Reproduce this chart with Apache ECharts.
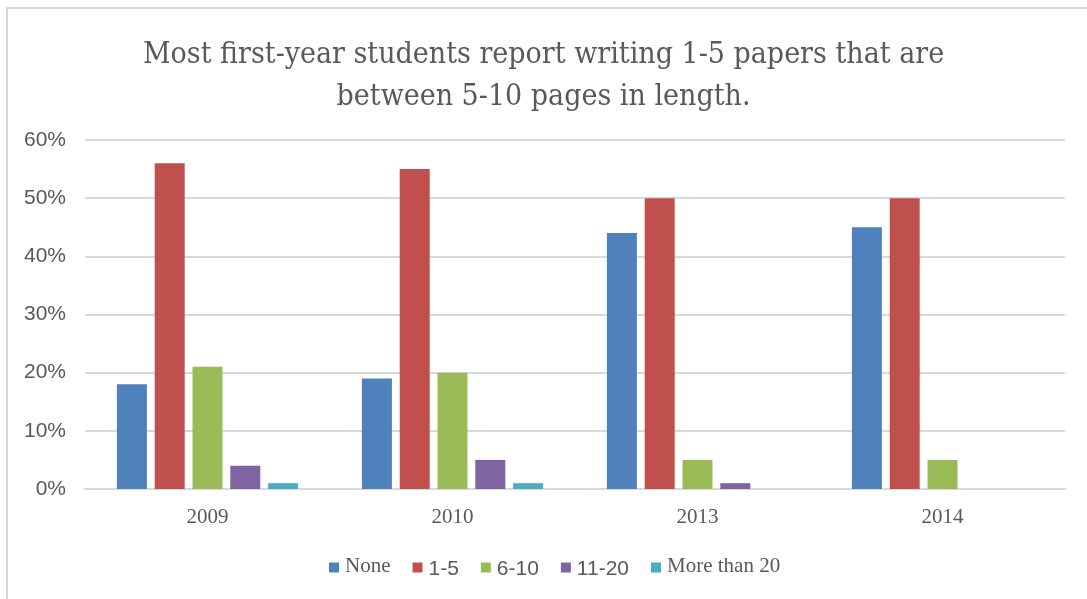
<!DOCTYPE html>
<html>
<head>
<meta charset="utf-8">
<script src="https://cdn.jsdelivr.net/npm/echarts@6/dist/echarts.min.js"></script>
<style>
  html, body { margin: 0; padding: 0; background: #fff; }
  #chart { width: 1087px; height: 599px; }
</style>
</head>
<body>
<div id="chart"></div>
<script>
// Survey years
const years = ['2009', '2010', '2013', '2014'];

// Share of students (%) by number of 5-10 page papers written
const none      = [18, 19, 44, 45];
const oneToFive = [56, 55, 50, 50];
const sixToTen  = [21, 20, 5, 5];
const elevenToTwenty = [4, 5, 1, 0];
const moreThanTwenty = [1, 1, 0, 0];

const seriesNames = ['None', '1-5', '6-10', '11-20', 'More than 20'];
const seriesColors = ['#4F81BD', '#C0504D', '#9BBB59', '#8064A2', '#4BACC6'];
const seriesValues = [none, oneToFive, sixToTen, elevenToTwenty, moreThanTwenty];

const yTicks = [0, 10, 20, 30, 40, 50, 60];

const titleFont = '"DejaVu Serif Condensed", "DejaVu Serif", serif';
const serifFont = '"Liberation Serif", "DejaVu Serif", serif';
const sansFont = '"Liberation Sans", Arial, sans-serif';

// Legend labels mix serif words and sans-serif number ranges
const serifLabels = ['None', 'More than 20'];

const chart = echarts.init(document.getElementById('chart'), null, { renderer: 'canvas' });

chart.setOption({
  backgroundColor: '#ffffff',
  animation: false,
  graphic: [{
    type: 'rect',
    shape: { x: 7, y: 8, width: 1300, height: 800 },
    style: { fill: 'none', stroke: '#d9d9d9', lineWidth: 2 },
    silent: true,
    z: -1
  }],
  title: {
    text: 'Most first-year students report writing 1-5 papers that are\nbetween 5-10 pages in length.',
    left: 'center',
    top: 29,
    textStyle: {
      fontFamily: titleFont,
      fontWeight: 'normal',
      fontSize: 30,
      lineHeight: 42,
      color: '#595959'
    }
  },
  legend: {
    bottom: 14,
    left: 324,
    itemWidth: 10,
    itemHeight: 10,
    itemGap: 22,
    icon: 'rect',
    data: seriesNames,
    formatter: function (name) {
      return serifLabels.indexOf(name) >= 0 ? '{s|' + name + '}' : '{n|' + name + '}';
    },
    textStyle: {
      color: '#595959',
      padding: [0, 0, 0, 1],
      rich: {
        s: { fontFamily: serifFont, fontSize: 21, color: '#595959', padding: [0, 0, 3, 0] },
        n: { fontFamily: sansFont, fontSize: 21, color: '#595959', padding: [4, 0, 0, 0] }
      }
    }
  },
  grid: {
    left: 85,
    right: 22,
    top: 140,
    bottom: 110,
    containLabel: false
  },
  xAxis: {
    type: 'category',
    data: years,
    axisTick: { show: false },
    axisLine: { show: true, lineStyle: { color: '#d9d9d9', width: 2 } },
    axisLabel: {
      fontFamily: serifFont,
      fontSize: 21,
      color: '#595959',
      margin: 18
    }
  },
  yAxis: {
    type: 'value',
    min: 0,
    max: 60,
    interval: 10,
    axisLine: { show: false },
    axisTick: { show: false },
    splitLine: { lineStyle: { color: '#d9d9d9', width: 2 } },
    axisLabel: {
      fontFamily: sansFont,
      fontSize: 21,
      color: '#595959',
      margin: 19,
      formatter: function (v) { return yTicks.indexOf(v) >= 0 ? v + '%' : ''; }
    }
  },
  series: seriesNames.map(function (name, i) {
    return {
      name: name,
      type: 'bar',
      data: seriesValues[i],
      barWidth: 30,
      barGap: '26%',
      itemStyle: { color: seriesColors[i] }
    };
  })
});
</script>
</body>
</html>
